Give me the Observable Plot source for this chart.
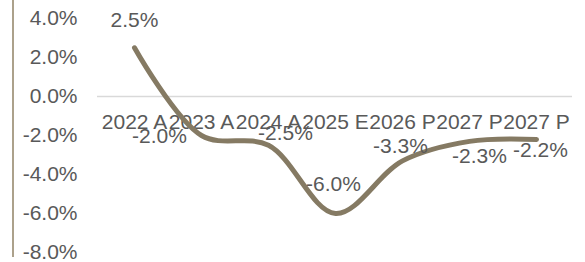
<!DOCTYPE html>
<html>
<head>
<meta charset="utf-8">
<script src="https://cdn.jsdelivr.net/npm/d3@7"></script>
<script src="https://cdn.jsdelivr.net/npm/@observablehq/plot@0.6"></script>
<style>
  html, body { margin: 0; padding: 0; background: #ffffff; }
  #wrap { position: relative; width: 585px; height: 262px; }
  #edge { position: absolute; left: 12px; top: 0; width: 2px; height: 257px; background: #aca18b; }
  svg { font-family: "Liberation Sans", Arial, sans-serif; }
</style>
</head>
<body>
<div id="wrap"><div id="edge"></div></div>
<script>
const categories = ["2022 A", "2023 A", "2024 A", "2025 E", "2026 P", "2027 P", "2027 P"];
const values = [2.5, -2.0, -2.5, -6.0, -3.3, -2.3, -2.2];
const yTicks = [4, 2, 0, -2, -4, -6, -8];

const data = categories.map((c, i) => ({i, cat: c, v: values[i]}));
const idx = categories.map((c, i) => i);

// label placement offsets (layout only)
const labelDx = [0, -42, 17, -2, -2, 10, 4];
const labelDy = [-27, 1, -12, -29, -15, 15, 11];

const fmt = d => d.toFixed(1) + "%";
const textColor = "#595959";
const fs = 21;

const labelMarks = data.map((d, k) => Plot.text([d], {
  x: "i", y: "v", text: r => fmt(r.v),
  dx: labelDx[k], dy: labelDy[k],
  fontSize: fs, fill: textColor
}));

const chart = Plot.plot({
  width: 585,
  height: 262,
  marginLeft: 97,
  marginRight: 13,
  marginTop: 18,
  marginBottom: 10,
  style: {fontFamily: '"Liberation Sans", Arial, sans-serif', background: "transparent", overflow: "visible"},
  x: {type: "point", domain: idx, padding: 0.5, axis: null},
  y: {domain: [-8, 4], ticks: yTicks, tickFormat: fmt, tickSize: 0, tickPadding: 20, label: null},
  marks: [
    Plot.ruleY([0], {stroke: "#d9d9d9", strokeWidth: 1.5}),
    Plot.axisY({ticks: yTicks, tickFormat: fmt, tickSize: 0, tickPadding: 20, fontSize: fs, fill: textColor, label: null}),
    Plot.text(data, {x: "i", y: () => 0, text: "cat", dy: 26, fontSize: fs, fill: textColor}),
    Plot.line(data, {x: "i", y: "v", curve: "catmull-rom", stroke: "#857a63", strokeWidth: 5, strokeLinecap: "round", strokeLinejoin: "round"}),
    ...labelMarks
  ]
});
chart.style.position = "absolute";
chart.style.left = "0";
chart.style.top = "0";
document.getElementById("wrap").appendChild(chart);
</script>
</body>
</html>
